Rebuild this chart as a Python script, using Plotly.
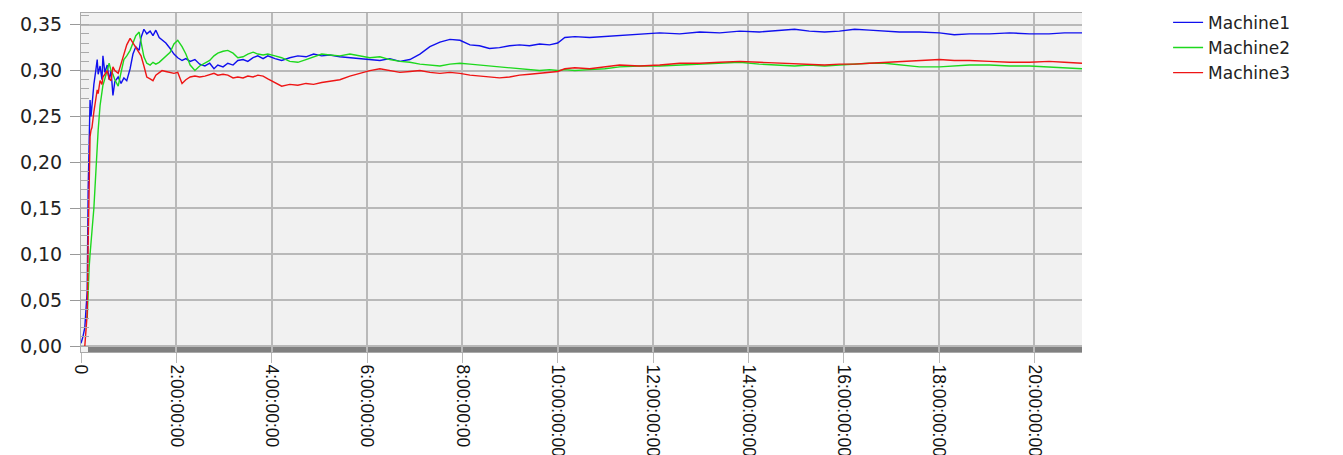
import plotly.graph_objects as go

# time in days
days = [0.00, 0.04, 0.08, 0.13, 0.15, 0.17, 0.19, 0.21, 0.23, 0.27, 0.31, 0.34, 0.36, 0.40, 0.44, 0.46,
        0.50, 0.55, 0.59, 0.63, 0.67, 0.71, 0.78, 0.84, 0.90, 0.96, 1.03, 1.09, 1.15, 1.22, 1.26, 1.32,
        1.38, 1.45, 1.51, 1.57, 1.64, 1.70, 1.78, 1.87, 1.95, 2.03, 2.12, 2.20, 2.29, 2.39, 2.49, 2.60,
        2.70, 2.79, 2.87, 2.98, 3.08, 3.19, 3.29, 3.40, 3.50, 3.61, 3.71, 3.82, 3.92, 4.07, 4.21, 4.38,
        4.55, 4.72, 4.88, 5.05, 5.22, 5.43, 5.64, 5.85, 6.06, 6.27, 6.48, 6.69, 6.90, 7.11, 7.32, 7.53,
        7.74, 7.95, 8.16, 8.36, 8.57, 8.78, 8.99, 9.20, 9.41, 9.62, 9.83, 10.00, 10.15, 10.36, 10.67,
        10.99, 11.30, 11.72, 12.14, 12.56, 12.98, 13.40, 13.82, 14.23, 14.65, 14.97, 15.28, 15.60, 15.91,
        16.23, 16.54, 16.86, 17.17, 17.59, 18.01, 18.32, 18.64, 19.06, 19.48, 19.90, 20.31, 20.63, 21.00]

machine1 = [0.003, 0.010, 0.020, 0.060, 0.170, 0.240, 0.268, 0.250, 0.262, 0.285, 0.300, 0.312, 0.296, 0.305, 0.290, 0.316,
            0.298, 0.306, 0.290, 0.300, 0.273, 0.288, 0.293, 0.286, 0.292, 0.289, 0.302, 0.318, 0.326, 0.322, 0.336, 0.345,
            0.340, 0.343, 0.338, 0.344, 0.336, 0.333, 0.330, 0.324, 0.318, 0.314, 0.311, 0.313, 0.310, 0.312, 0.307, 0.305,
            0.308, 0.302, 0.306, 0.304, 0.308, 0.306, 0.311, 0.312, 0.310, 0.314, 0.316, 0.313, 0.316, 0.313, 0.311, 0.314,
            0.316, 0.315, 0.318, 0.316, 0.317, 0.315, 0.314, 0.313, 0.312, 0.311, 0.313, 0.310, 0.312, 0.318, 0.326, 0.331,
            0.334, 0.333, 0.328, 0.327, 0.324, 0.325, 0.327, 0.328, 0.327, 0.329, 0.328, 0.330, 0.336, 0.337, 0.336,
            0.337, 0.338, 0.339, 0.341, 0.340, 0.342, 0.341, 0.343, 0.342, 0.344, 0.345, 0.343, 0.342, 0.343,
            0.345, 0.344, 0.343, 0.342, 0.342, 0.341, 0.339, 0.340, 0.340, 0.341, 0.340, 0.340, 0.341, 0.341]

machine2 = [None, None, None, 0.030, 0.075, 0.085, 0.100, 0.110, 0.125, 0.150, 0.190, 0.210, 0.235, 0.262, 0.279, 0.284,
            0.291, 0.300, 0.308, 0.300, 0.296, 0.290, 0.283, 0.298, 0.312, 0.316, 0.322, 0.330, 0.338, 0.342, 0.331, 0.315,
            0.308, 0.306, 0.309, 0.307, 0.309, 0.312, 0.316, 0.320, 0.329, 0.333, 0.326, 0.318, 0.306, 0.300, 0.305, 0.308,
            0.311, 0.316, 0.319, 0.321, 0.322, 0.319, 0.314, 0.315, 0.318, 0.320, 0.318, 0.317, 0.318, 0.316, 0.314, 0.310,
            0.309, 0.312, 0.315, 0.318, 0.317, 0.316, 0.318, 0.316, 0.314, 0.315, 0.312, 0.310, 0.309, 0.307, 0.306, 0.305,
            0.307, 0.308, 0.307, 0.306, 0.305, 0.304, 0.303, 0.302, 0.301, 0.300, 0.301, 0.300, 0.301, 0.300, 0.301,
            0.302, 0.304, 0.305, 0.305, 0.306, 0.307, 0.308, 0.309, 0.307, 0.306, 0.305, 0.306, 0.305, 0.306,
            0.307, 0.308, 0.308, 0.306, 0.304, 0.304, 0.305, 0.306, 0.306, 0.305, 0.305, 0.304, 0.303, 0.302]

machine3 = [None, None, 0.000, 0.035, 0.110, 0.170, 0.228, 0.235, 0.238, 0.255, 0.268, 0.279, 0.275, 0.289, 0.285, 0.293,
            0.296, 0.300, 0.291, 0.289, 0.304, 0.300, 0.297, 0.308, 0.319, 0.328, 0.335, 0.330, 0.324, 0.319, 0.316, 0.305,
            0.293, 0.291, 0.289, 0.295, 0.298, 0.300, 0.299, 0.298, 0.297, 0.298, 0.286, 0.290, 0.293, 0.294, 0.293, 0.294,
            0.296, 0.297, 0.295, 0.296, 0.295, 0.292, 0.293, 0.292, 0.294, 0.293, 0.295, 0.294, 0.291, 0.287, 0.283, 0.285,
            0.284, 0.286, 0.285, 0.287, 0.288, 0.290, 0.294, 0.297, 0.300, 0.302, 0.300, 0.298, 0.299, 0.300, 0.298, 0.297,
            0.298, 0.297, 0.295, 0.294, 0.293, 0.292, 0.293, 0.295, 0.296, 0.297, 0.298, 0.299, 0.302, 0.303, 0.302,
            0.304, 0.306, 0.305, 0.306, 0.308, 0.308, 0.309, 0.310, 0.309, 0.308, 0.307, 0.306, 0.306, 0.307,
            0.307, 0.308, 0.309, 0.310, 0.311, 0.312, 0.311, 0.311, 0.310, 0.309, 0.309, 0.310, 0.309, 0.308]

series_names = ["Machine1", "Machine2", "Machine3"]
series_colors = ["#1010ee", "#1ed81e", "#ee1515"]

x_tickvals = [0, 2, 4, 6, 8, 10, 12, 14, 16, 18, 20]
x_ticktext = ["0", "2:00:00:00", "4:00:00:00", "6:00:00:00", "8:00:00:00", "10:00:00:00",
              "12:00:00:00", "14:00:00:00", "16:00:00:00", "18:00:00:00", "20:00:00:00"]
y_tickvals = [0.0, 0.05, 0.10, 0.15, 0.20, 0.25, 0.30, 0.35]

fig = go.Figure()
for name, vals, col in zip(series_names, [machine1, machine2, machine3], series_colors):
    fig.add_trace(go.Scatter(x=days, y=vals, name=name, mode="lines",
                             line=dict(color=col, width=1.4), connectgaps=False))

grid_col = "#b9b9b9"
fig.update_layout(
    width=1343, height=455,
    margin=dict(l=73, r=269, t=5, b=111, autoexpand=False),
    plot_bgcolor="#f1f1f1", paper_bgcolor="white",
    separators=", ",
    font=dict(family="DejaVu Sans", size=19, color="#222222"),
    legend=dict(x=1.086, y=1.024, xanchor="left", yanchor="top",
                font=dict(family="DejaVu Sans", size=17, color="#222222"),
                bgcolor="rgba(0,0,0,0)", tracegroupgap=0),
    showlegend=True,
)
fig.update_xaxes(
    range=[0, 21], tickvals=x_tickvals, ticktext=x_ticktext, tickangle=90,
    tickfont=dict(family="Liberation Sans", size=17.5, color="#111111"),
    showgrid=True, gridcolor=grid_col, gridwidth=1.5,
    ticks="outside", ticklen=10, tickcolor=grid_col, automargin=False, ticklabelstandoff=-2,
    showline=True, mirror=True, linecolor="#aaaaaa", linewidth=1, zeroline=False,
)
fig.update_yaxes(
    range=[-0.0065, 0.3627], tickvals=y_tickvals, tickformat=".2f",
    tickfont=dict(family="DejaVu Sans", size=19, color="#222222"),
    showgrid=True, gridcolor=grid_col, gridwidth=1.5, automargin=False,
    ticks="outside", ticklen=10, tickcolor="#999999", ticklabelstandoff=4,
    minor=dict(ticks="inside", ticklen=8, dtick=0.01, tickcolor="#aaaaaa", showgrid=False),
    showline=True, linecolor="#aaaaaa", linewidth=1, zeroline=False,
)
# dark strip below zero line
fig.add_shape(type="rect", xref="paper", yref="y", x0=0.007, x1=1.0, y0=-0.0065, y1=0.0,
              fillcolor="#808080", line=dict(width=0), layer="below")

fig.write_html("out.html")
